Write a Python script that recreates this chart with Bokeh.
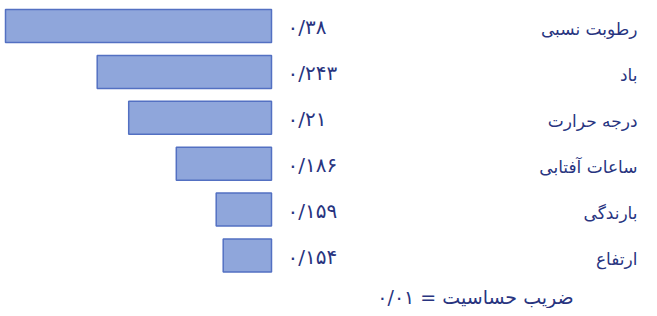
from bokeh.plotting import figure
from bokeh.models import ColumnDataSource, Range1d, Label
from bokeh.core.properties import value
from bokeh.embed import file_html
from bokeh.resources import INLINE

# Factors (top to bottom)
factors = ["رطوبت نسبی", "باد", "درجه حرارت", "ساعات آفتابی", "بارندگی", "ارتفاع"]
# Sensitivity coefficients shown as labels
coefficients = [0.38, 0.243, 0.21, 0.186, 0.159, 0.154]
# Bar lengths as drawn in the picture (visual scale, longest = 0.38)
bar_lengths = [0.38, 0.249, 0.204, 0.136, 0.079, 0.069]
footer_text = "ضریب حساسیت = ۰/۰۱"

PERSIAN = str.maketrans("0123456789", "۰۱۲۳۴۵۶۷۸۹")


def fa_num(v):
    s = ("%g" % v)
    whole, frac = s.split(".")
    return (whole + "/" + frac).translate(PERSIAN)


rows = list(range(len(factors)))
src = ColumnDataSource(dict(
    y=rows,
    length=bar_lengths,
    label=factors,
    vtext=[fa_num(v) for v in coefficients],
))

W, H = 649, 308
PX_PER_UNIT = 700.0
BAR_RIGHT = 271.0
ROW0 = 25.5
PITCH = 45.9

p = figure(width=W, height=H, output_backend="svg", toolbar_location=None,
           x_range=Range1d(BAR_RIGHT / PX_PER_UNIT, (BAR_RIGHT - W) / PX_PER_UNIT),
           y_range=Range1d((H - ROW0) / PITCH, -ROW0 / PITCH),
           min_border=0, outline_line_color=None,
           x_axis_location=None, y_axis_location=None)
p.grid.visible = False
p.background_fill_color = "white"
p.border_fill_color = "white"

p.hbar(y="y", left=0, right="length", height=0.72, source=src,
       fill_color="#8FA6DB", line_color="#5370C2", line_width=1.5)

txt_color = "#28347F"
font = value("DejaVu Sans")

p.text(x=0, y="y", text="vtext", source=src, x_offset=16, y_offset=1,
       text_align="left", text_baseline="middle", text_color=txt_color,
       text_font=font, text_font_size="20px")

p.text(x=0, y="y", text="label", source=src, x_offset=366, y_offset=3,
       text_align="right", text_baseline="middle", text_color=txt_color,
       text_font=font, text_font_size="17px")

p.add_layout(Label(x=475, y=12, x_units="screen", y_units="screen",
                   text=footer_text, text_align="center", text_baseline="middle",
                   text_color=txt_color, text_font="DejaVu Sans",
                   text_font_size="19px"))

open("out.html", "w").write(file_html(p, INLINE))
